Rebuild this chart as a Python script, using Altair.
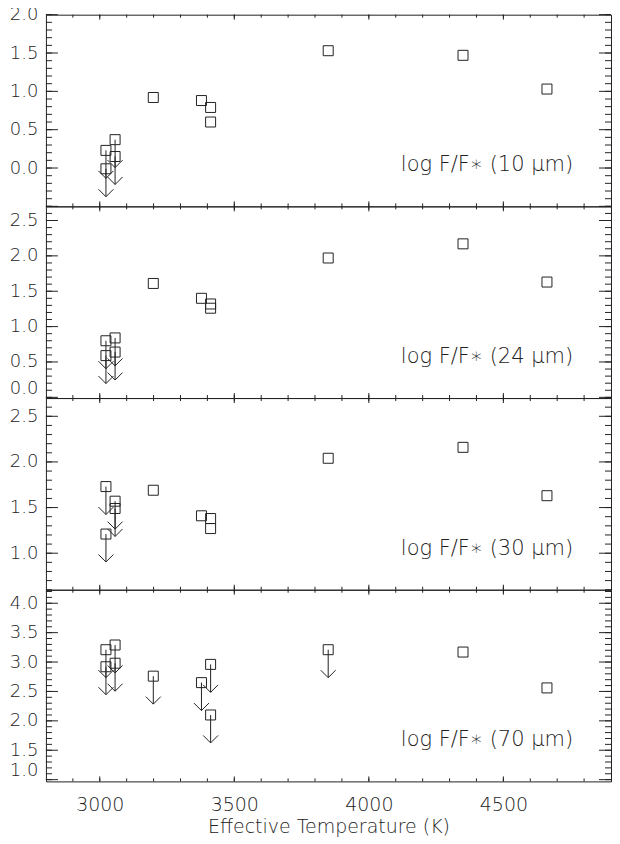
import altair as alt
import numpy as np
import pandas as pd

# ---------------- data ----------------
TEMPS = [3023, 3023, 3057, 3057, 3199, 3378, 3412, 3412, 3849, 4350, 4662]

F10 = [0.23, -0.01, 0.37, 0.15, 0.92, 0.88, 0.79, 0.60, 1.53, 1.47, 1.03]
L10 = [True, True, True, True, False, False, False, False, False, False, False]

F24 = [0.80, 0.59, 0.84, 0.64, 1.61, 1.40, 1.32, 1.26, 1.97, 2.17, 1.63]
L24 = [True, True, True, True, False, False, False, False, False, False, False]

F30 = [1.73, 1.21, 1.57, 1.49, 1.69, 1.41, 1.38, 1.27, 2.04, 2.16, 1.63]
L30 = [True, True, True, True, False, False, False, False, False, False, False]

F70 = [3.21, 2.92, 3.29, 2.98, 2.76, 2.65, 2.96, 2.10, 3.21, 3.17, 2.56]
L70 = [True, True, True, True, True, True, True, True, True, False, False]

PANEL_LABELS = ["log F/F\u2217 (10 \u03bcm)", "log F/F\u2217 (24 \u03bcm)",
                "log F/F\u2217 (30 \u03bcm)", "log F/F\u2217 (70 \u03bcm)"]
Y_DOMAINS = [[-0.5, 2.0], [-0.01, 2.7], [0.6, 2.7], [0.97, 4.23]]
Y_LABELS = [[0.0, 0.5, 1.0, 1.5, 2.0],
            [0.0, 0.5, 1.0, 1.5, 2.0, 2.5],
            [1.0, 1.5, 2.0, 2.5],
            [1.0, 1.5, 2.0, 2.5, 3.0, 3.5, 4.0]]
Y_FLUSH = [False, 3, 3, 3]

X_DOMAIN = [2800, 4900]
X_LABELS = [3000, 3500, 4000, 4500]
X_MINOR = [2900, 3000, 3100, 3200, 3300, 3400, 3500, 3600, 3700, 3800, 3900,
           4000, 4100, 4200, 4300, 4400, 4500, 4600, 4700, 4800]
X_TITLE = "Effective Temperature (K)"

# ---------------- style ----------------
W, H = 566, 192
INK = "#222222"
FONT = "DejaVu Sans"
FW = 200
ARROW = 28

xscale = alt.Scale(domain=X_DOMAIN, nice=False, zero=False)


def ticks_in(dom, step):
    lo = int(np.ceil(dom[0] / step - 1e-9))
    hi = int(np.floor(dom[1] / step + 1e-9))
    return [round(i * step, 2) for i in range(lo, hi + 1)]


def panel(vals, lims, dom, ylabels, flush, text, bottom):
    yscale = alt.Scale(domain=dom, nice=False, zero=False)
    yaxis = alt.Axis(values=ylabels, format=".1f", ticks=False, domain=False,
                     grid=False, title=None, labelPadding=8, labelFontSize=18,
                     labelFont=FONT, labelFontWeight=FW, labelColor=INK,
                     labelFlush=flush)
    if bottom:
        xaxis = alt.Axis(values=X_LABELS, format="d", ticks=False, domain=False,
                         grid=False, title=X_TITLE, labelPadding=14,
                         titlePadding=3, labelFontSize=19, titleFontSize=19,
                         titleFontWeight=FW, labelFontWeight=FW,
                         labelFont=FONT, titleFont=FONT, labelColor=INK,
                         titleColor=INK)
    else:
        xaxis = None
    X = alt.X("T:Q", scale=xscale, axis=xaxis)
    Y = alt.Y("v:Q", scale=yscale, axis=yaxis)

    data = pd.DataFrame({"T": TEMPS, "v": vals, "lim": lims})
    ymaj = pd.DataFrame({"v": ticks_in(dom, 0.5)})
    ymin = pd.DataFrame({"v": ticks_in(dom, 0.1)})
    xmaj = pd.DataFrame({"T": X_LABELS})
    xmin = pd.DataFrame({"T": X_MINOR})

    def yt(df, a, b):
        return alt.Chart(df).mark_rule(color=INK, strokeWidth=1).encode(
            y=Y, x=alt.value(a), x2=alt.value(b))

    def xt(df, a, b):
        return alt.Chart(df).mark_rule(color=INK, strokeWidth=1).encode(
            x=X, y=alt.value(a), y2=alt.value(b))

    layers = [
        yt(ymaj, 0, 12), yt(ymaj, W, W - 12),
        yt(ymin, 0, 6), yt(ymin, W, W - 6),
        xt(xmaj, 0, 5), xt(xmaj, H, H - 5),
        xt(xmin, 0, 3), xt(xmin, H, H - 3),
        alt.Chart(data).transform_filter("datum.lim").mark_rule(
            color=INK, strokeWidth=1, y2Offset=ARROW).encode(
            x=X, y=Y, y2=alt.Y2("v:Q")),
        alt.Chart(data).transform_filter("datum.lim").mark_point(
            shape="M-1,-1L0,0L1,-1", size=225, filled=False, color=INK,
            strokeWidth=1, opacity=1, yOffset=ARROW).encode(x=X, y=Y),
        alt.Chart(data).mark_point(shape="square", size=100, filled=False,
                                   color=INK, strokeWidth=1, opacity=1).encode(
            x=X, y=Y),
        alt.Chart(pd.DataFrame({"label": [text]})).mark_text(
            align="right", baseline="middle", font=FONT, fontSize=21,
            fontWeight=FW, color=INK).encode(
            text="label:N", x=alt.value(W - 38), y=alt.value(H - 41)),
    ]
    return alt.layer(*layers).properties(width=W, height=H)


panels = []
series = [(F10, L10), (F24, L24), (F30, L30), (F70, L70)]
for i, (vals, lims) in enumerate(series):
    panels.append(panel(vals, lims, Y_DOMAINS[i], Y_LABELS[i], Y_FLUSH[i],
                        PANEL_LABELS[i], i == 3))

chart = alt.vconcat(*panels, spacing=0, bounds="flush").properties(
    padding={"top": -4, "left": 0, "right": 0, "bottom": 0}
).configure_view(stroke=INK, strokeWidth=1)

chart.save("out.html", embed_options={"renderer": "svg", "actions": False})
